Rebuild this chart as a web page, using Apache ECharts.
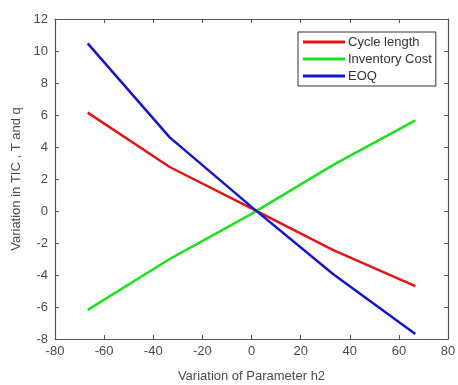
<!DOCTYPE html>
<html><head><meta charset="utf-8">
<script src="https://cdn.jsdelivr.net/npm/echarts@6/dist/echarts.min.js"></script>
<style>html,body{margin:0;padding:0;background:#fff}#c{width:458px;height:385px}</style>
</head><body><div id="c"></div>
<script>
const xValues = [-66.7, -33.3, 0, 33.3, 66.7];
const cycleLength = [6.15, 2.75, 0.16, -2.45, -4.69];
const inventoryCost = [-6.18, -3.0, -0.18, 2.88, 5.66];
const eoq = [10.48, 4.6, 0.26, -3.95, -7.69];
const xTicks = [-80, -60, -40, -20, 0, 20, 40, 60, 80];
const yTicks = [-8, -6, -4, -2, 0, 2, 4, 6, 8, 10, 12];

const pair = (ys) => xValues.map((x, i) => [x, ys[i]]);
const font = 'Liberation Sans, Arial, sans-serif';
const axisCol = '#555';
const txtCol = '#4a4a4a';

const chart = echarts.init(document.getElementById('c'), null, {renderer: 'canvas'});
const baseX = {min: xTicks[0], max: xTicks[xTicks.length-1], interval: 20};
const baseY = {min: yTicks[0], max: yTicks[yTicks.length-1], interval: 2};
chart.setOption({
  animation: false,
  backgroundColor: '#fff',
  grid: {left: 55, right: 10, top: 19, bottom: 46, containLabel: false, outerBoundsMode: 'none'},
  xAxis: [
    Object.assign({type: 'value', position: 'bottom',
      name: 'Variation of Parameter h2', nameLocation: 'middle', nameGap: 31,
      nameTextStyle: {fontFamily: font, fontSize: 13, color: txtCol},
      axisLine: {onZero: false, lineStyle: {color: axisCol, width: 1.2}},
      axisTick: {inside: true, length: 4, lineStyle: {color: axisCol}},
      axisLabel: {fontFamily: font, fontSize: 13, color: txtCol, margin: 6},
      splitLine: {show: false}}, baseX),
    Object.assign({type: 'value', position: 'top',
      axisLine: {onZero: false, lineStyle: {color: axisCol, width: 1.2}},
      axisTick: {inside: true, length: 4, lineStyle: {color: axisCol}},
      axisLabel: {show: false}, splitLine: {show: false}}, baseX)
  ],
  yAxis: [
    Object.assign({type: 'value', position: 'left',
      name: 'Variation in TIC , T and q', nameLocation: 'middle', nameGap: 30,
      nameTextStyle: {fontFamily: font, fontSize: 13, color: txtCol},
      axisLine: {onZero: false, lineStyle: {color: axisCol, width: 1.2}},
      axisTick: {inside: true, length: 4, lineStyle: {color: axisCol}},
      axisLabel: {fontFamily: font, fontSize: 13, color: txtCol, margin: 7},
      splitLine: {show: false}}, baseY),
    Object.assign({type: 'value', position: 'right',
      axisLine: {onZero: false, lineStyle: {color: axisCol, width: 1.2}},
      axisTick: {inside: true, length: 4, lineStyle: {color: axisCol}},
      axisLabel: {show: false}, splitLine: {show: false}}, baseY)
  ],
  legend: {
    orient: 'vertical', left: 298, top: 32,
    backgroundColor: '#fff', borderColor: '#333', borderWidth: 1,
    padding: [3, 4, 3, 5], itemGap: 3, itemWidth: 42, itemHeight: 3,
    icon: 'rect', itemStyle: {borderWidth: 0},
    textStyle: {fontFamily: font, fontSize: 13, color: '#333', padding: [0,0,0,-2], lineHeight: 14},
    data: ['Cycle length', 'Inventory Cost', 'EOQ']
  },
  series: [
    {name: 'Cycle length', type: 'line', data: pair(cycleLength), showSymbol: false, symbol: 'none',
      lineStyle: {color: '#e01616', width: 2.5}, itemStyle: {color: '#e01616'}},
    {name: 'Inventory Cost', type: 'line', data: pair(inventoryCost), showSymbol: false, symbol: 'none',
      lineStyle: {color: '#1fe01f', width: 2.5}, itemStyle: {color: '#1fe01f'}},
    {name: 'EOQ', type: 'line', data: pair(eoq), showSymbol: false, symbol: 'none',
      lineStyle: {color: '#1414cc', width: 2.5}, itemStyle: {color: '#1414cc'}}
  ]
});
</script></body></html>
